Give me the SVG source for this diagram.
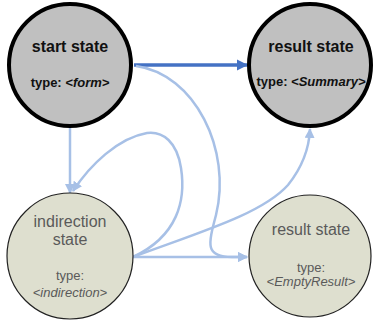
<svg xmlns="http://www.w3.org/2000/svg" width="374" height="325" viewBox="0 0 374 325">
<defs>
<style>
.dark{fill:#c0c0c0;stroke:#000;stroke-width:4}
.light{fill:#dedfcf;stroke:#222;stroke-width:1.2}
.t1{font-family:"Liberation Sans",Arial,sans-serif;font-weight:bold;font-size:16px;fill:#111;text-anchor:middle}
.t2{font-family:"Liberation Sans",Arial,sans-serif;font-weight:bold;font-size:13px;fill:#111;text-anchor:middle}
.g1{font-family:"Liberation Sans",Arial,sans-serif;font-size:16px;fill:#5a5a5a;text-anchor:middle}
.g2{font-family:"Liberation Sans",Arial,sans-serif;font-size:13px;fill:#5a5a5a;text-anchor:middle}
.c{fill:none;stroke:#a7c0e6;stroke-width:2.5}
.cd{fill:none;stroke:#4472c4;stroke-width:3.5}
</style>
<marker id="ah" viewBox="0 0 10 10" refX="9" refY="5" markerWidth="4" markerHeight="4" orient="auto" markerUnits="strokeWidth">
<path d="M0,0 L10,5 L0,10 Z" fill="#a7c0e6"/>
</marker>
<marker id="ahd" viewBox="0 0 10 10" refX="9" refY="5" markerWidth="3.2" markerHeight="3.2" orient="auto" markerUnits="strokeWidth">
<path d="M0,0 L10,5 L0,10 Z" fill="#4472c4"/>
</marker>
</defs>
<g id="connectors">
<path class="cd" d="M134,65 L247,65" marker-end="url(#ahd)"/>
<path class="c" d="M70,128 L70,193" marker-end="url(#ah)"/>
<path class="c" d="M136,66 C195,74 232,150 216,215 C208,245 205,257 232,257 L247,257" marker-end="url(#ah)"/>
<path class="c" d="M133,257 C178,236 186,200 181,168 C177,142 163,131 147,133 C118,138 90,165 73,191" marker-end="url(#ah)"/>
<path class="c" d="M133,257 C200,232 262,214 288,185 C300,170 309,152 310,129" marker-end="url(#ah)"/>
<path class="c" d="M133,257 L247,257" marker-end="url(#ah)"/>
</g>
<g id="start">
<circle class="dark" cx="70" cy="65" r="61"/>
<text class="t1" x="70" y="52">start state</text>
<text class="t2" x="70" y="87">type: <tspan font-style="italic">&lt;form&gt;</tspan></text>
</g>
<g id="summary">
<circle class="dark" cx="310" cy="65" r="61"/>
<text class="t1" x="311" y="52">result state</text>
<text class="t2" x="311" y="86">type: <tspan font-style="italic">&lt;Summary&gt;</tspan></text>
</g>
<g id="indirection">
<circle class="light" cx="70" cy="256" r="63"/>
<text class="g1" x="70" y="227">indirection</text>
<text class="g1" x="70" y="245">state</text>
<text class="g2" x="70" y="280">type:</text>
<text class="g2" x="70" y="297" font-style="italic">&lt;indirection&gt;</text>
</g>
<g id="empty">
<circle class="light" cx="310" cy="256" r="61"/>
<text class="g1" x="311" y="235">result state</text>
<text class="g2" x="311" y="272">type:</text>
<text class="g2" x="311" y="286" font-style="italic">&lt;EmptyResult&gt;</text>
</g>
</svg>
